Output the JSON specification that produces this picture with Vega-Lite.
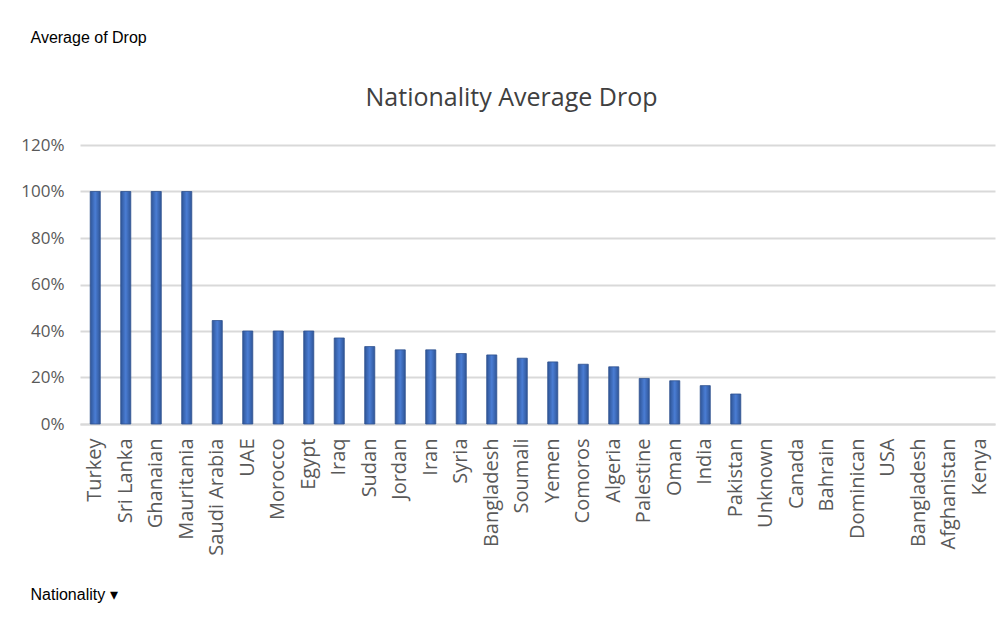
{
  "$schema": "https://vega.github.io/schema/vega-lite/v6.json",
  "width": 915,
  "height": 279,
  "autosize": {"type": "none"},
  "padding": {"left": 80, "right": 4, "top": 145, "bottom": 198},
  "background": "white",
  "title": {
    "text": "Nationality Average Drop",
    "font": "Open Sans",
    "fontSize": 25,
    "fontWeight": "normal",
    "color": "#404040",
    "anchor": "middle",
    "dx": -26,
    "offset": -82
  },
  "data": {
    "values": [
      {"Nationality": "Turkey", "Drop": 1.0},
      {"Nationality": "Sri Lanka", "Drop": 1.0},
      {"Nationality": "Ghanaian", "Drop": 1.0},
      {"Nationality": "Mauritania", "Drop": 1.0},
      {"Nationality": "Saudi Arabia", "Drop": 0.445},
      {"Nationality": "UAE", "Drop": 0.40},
      {"Nationality": "Morocco", "Drop": 0.40},
      {"Nationality": "Egypt", "Drop": 0.40},
      {"Nationality": "Iraq", "Drop": 0.37},
      {"Nationality": "Sudan", "Drop": 0.333},
      {"Nationality": "Jordan", "Drop": 0.319},
      {"Nationality": "Iran", "Drop": 0.319},
      {"Nationality": "Syria", "Drop": 0.303},
      {"Nationality": "Bangladesh", "Drop": 0.297},
      {"Nationality": "Soumali", "Drop": 0.283},
      {"Nationality": "Yemen", "Drop": 0.267},
      {"Nationality": "Comoros", "Drop": 0.257},
      {"Nationality": "Algeria", "Drop": 0.246},
      {"Nationality": "Palestine", "Drop": 0.196},
      {"Nationality": "Oman", "Drop": 0.186},
      {"Nationality": "India", "Drop": 0.165},
      {"Nationality": "Pakistan", "Drop": 0.129},
      {"Nationality": "Unknown", "Drop": 0},
      {"Nationality": "Canada", "Drop": 0},
      {"Nationality": "Bahrain", "Drop": 0},
      {"Nationality": "Dominican", "Drop": 0},
      {"Nationality": "USA", "Drop": 0},
      {"Nationality": "Bangladesh ", "Drop": 0},
      {"Nationality": "Afghanistan", "Drop": 0},
      {"Nationality": "Kenya", "Drop": 0}
    ]
  },
  "mark": {
    "type": "bar",
    "fill": {
      "gradient": "linear",
      "x1": 0, "y1": 0, "x2": 1, "y2": 0,
      "stops": [
        {"offset": 0, "color": "#2F5597"},
        {"offset": 0.5, "color": "#4A7DD4"},
        {"offset": 1, "color": "#2F5597"}
      ]
    },
    "stroke": "#2F528F",
    "strokeWidth": 0.8
  },
  "encoding": {
    "opacity": {"condition": {"test": "datum.Drop > 0", "value": 1}, "value": 0},
    "x": {
      "field": "Nationality",
      "type": "nominal",
      "sort": null,
      "scale": {"paddingInner": 0.67, "paddingOuter": 0.335},
      "axis": {
        "title": "Nationality  ▾",
        "titleX": -50,
        "titleY": 170,
        "titleAlign": "left",
        "titleBaseline": "middle",
        "titleAngle": 0,
        "titleFont": "Liberation Sans",
        "titleFontSize": 16,
        "titleFontWeight": "normal",
        "titleColor": "#000000",
        "labelAngle": -90,
        "labelAlign": "right",
        "labelBaseline": "middle",
        "labelFont": "Open Sans",
        "labelFontSize": 20,
        "labelColor": "#595959",
        "labelPadding": 14,
        "labelOverlap": false,
        "labelLimit": 200,
        "ticks": false,
        "domain": true,
        "domainColor": "#D9D9D9",
        "domainWidth": 2,
        "grid": false
      }
    },
    "y": {
      "field": "Drop",
      "type": "quantitative",
      "scale": {"domain": [0, 1.2]},
      "axis": {
        "title": "Average of Drop",
        "titleX": -50,
        "titleY": -108,
        "titleAlign": "left",
        "titleBaseline": "middle",
        "titleAngle": 0,
        "titleFont": "Liberation Sans",
        "titleFontSize": 16,
        "titleFontWeight": "normal",
        "titleColor": "#000000",
        "values": [0, 0.2, 0.4, 0.6, 0.8, 1.0, 1.2],
        "format": ".0%",
        "labelFont": "Open Sans",
        "labelFontSize": 17,
        "labelColor": "#595959",
        "labelPadding": 16,
        "ticks": false,
        "domain": false,
        "grid": true,
        "gridColor": "#D9D9D9",
        "gridWidth": 2
      }
    }
  },
  "config": {
    "view": {"stroke": null}
  }
}
